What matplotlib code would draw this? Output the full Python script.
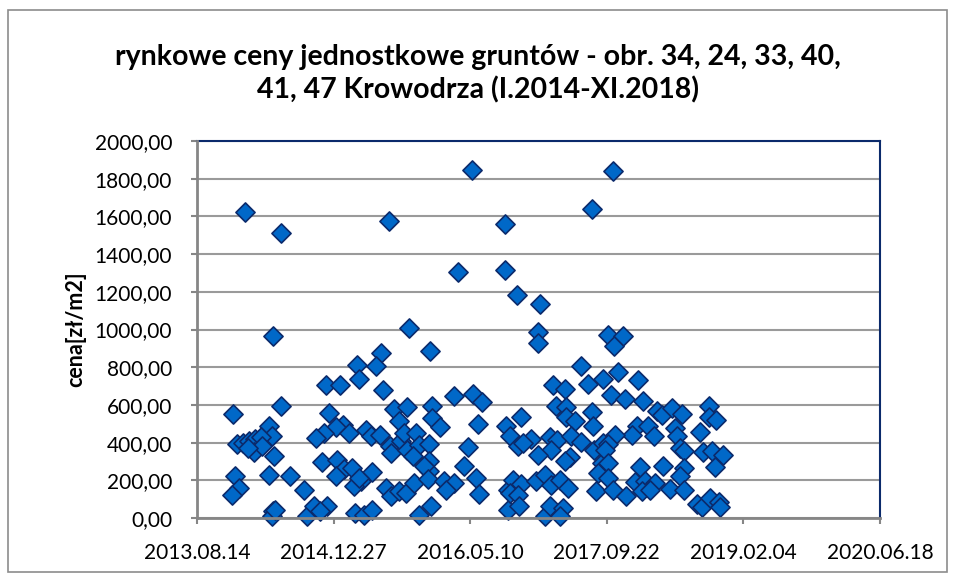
import datetime as dt
import matplotlib
matplotlib.use("Agg")
import matplotlib.pyplot as plt
from matplotlib.ticker import FuncFormatter, MultipleLocator
from matplotlib.patches import Rectangle

# ---- data (x: Excel date serial, y: price zł/m2) ----
dates = [
    41778, 41631, 41808, 41762, 41774, 41648, 41670, 41692, 41713, 41735,
    41707, 41738, 41783, 41685, 41640, 41655, 41627, 41765, 41842, 41891,
    41780, 41774, 41787, 41903, 41674, 41808, 42201, 42276, 42454, 42507,
    43024, 42944, 42629, 42628, 42672, 42755, 42748, 42748, 43005, 43060,
    43027, 42172, 42154, 42087, 42093, 42179, 41974, 42023, 41982, 42221,
    42240, 42270, 42035, 42007, 42056, 41964, 41934, 42117, 42136, 42169,
    42207, 42209, 42246, 42270, 41958, 42011, 42038, 42068, 42007, 42142,
    42099, 42074, 42093, 42191, 42209, 42240, 42264, 41927, 41977, 41952,
    42080, 42111, 42142, 42353, 42442, 42509, 42543, 42530, 42362, 42362,
    42390, 42258, 42301, 42313, 42350, 42292, 42350, 42350, 42331, 42491,
    42478, 42521, 42533, 42295, 42346, 42405, 42442, 42411, 42313, 42356,
    42632, 42644, 42638, 42638, 42907, 42932, 42987, 42803, 42846, 42815,
    42852, 42687, 42852, 42883, 42944, 42950, 42675, 42723, 42693, 42791,
    42819, 42797, 42748, 42870, 42907, 42954, 42987, 42864, 42846, 42981,
    42968, 42656, 42687, 42742, 42772, 42797, 42827, 42858, 42644, 42675,
    42962, 42680, 42772, 42791, 42840, 42827, 43042, 43115, 43015, 43066,
    43134, 43183, 43201, 43238, 43277, 43375, 43373, 43399, 43109, 43152,
    43248, 43091, 43174, 43256, 43342, 43030, 43268, 43281, 43351, 43385,
    43424, 43397, 43005, 42993, 43005, 43121, 43207, 43281, 43268, 43005,
    43103, 43140, 43176, 43128, 43158, 43232, 43281, 43024, 43072, 43330,
    43348, 43379, 43409, 43415,
]
prices = [
    963, 553, 596, 486, 433, 394, 398, 406, 419, 430,
    348, 380, 330, 371, 224, 159, 124, 230, 221, 150,
    35, 12, 44, 8, 1625, 1510, 1577, 1008, 1303, 1844,
    1839, 1641, 1560, 1314, 1183, 1137, 985, 928, 972, 965,
    910, 875, 804, 813, 737, 677, 703, 703, 557, 578,
    513, 589, 495, 483, 451, 451, 424, 468, 433, 442,
    384, 345, 406, 362, 295, 309, 260, 265, 221, 242,
    194, 168, 212, 159, 115, 141, 133, 62, 62, 35,
    27, 18, 44, 884, 649, 659, 613, 500, 596, 530,
    483, 451, 451, 389, 394, 330, 300, 247, 274, 375,
    274, 212, 129, 186, 207, 194, 186, 150, 18, 62,
    486, 433, 150, 44, 808, 712, 737, 707, 684, 592,
    589, 536, 536, 513, 560, 490, 380, 419, 398, 430,
    415, 362, 336, 433, 401, 362, 398, 324, 300, 292,
    239, 203, 182, 194, 230, 177, 203, 159, 133, 124,
    141, 62, 8, 62, 53, 8, 772, 730, 654, 633,
    619, 566, 548, 584, 553, 596, 536, 518, 490, 490,
    477, 442, 433, 437, 454, 442, 371, 353, 348, 353,
    336, 271, 394, 362, 292, 271, 274, 265, 224, 212,
    189, 194, 186, 141, 146, 154, 150, 150, 115, 76,
    58, 106, 83, 58,
]

title = "rynkowe ceny jednostkowe gruntów - obr. 34, 24, 33, 40,\n41, 47 Krowodrza (I.2014-XI.2018)"
y_label = "cena[zł/m2]"
x_start, x_end, x_step = 41500, 44000, 500
y_max, y_step = 2000, 200

plt.rcParams["font.family"] = ["Lato", "DejaVu Sans"]

fig = plt.figure(figsize=(9.55, 5.76), dpi=100)
fig.patches.append(Rectangle((8 / 955, 4 / 576), 939 / 955, 562 / 576,
                             transform=fig.transFigure, fill=False,
                             edgecolor="#8c8c8c", linewidth=1.2))

ax = fig.add_axes([197 / 955, 1 - 518 / 576, 683 / 955, 377 / 576])
ax.scatter(dates, prices, marker="D", s=95, facecolor="#0068C8",
           edgecolor="#0B2A6B", linewidth=1.2, zorder=3, clip_on=False)

ax.set_xlim(x_start, x_end)
ax.set_ylim(0, y_max)
ax.xaxis.set_major_locator(MultipleLocator(x_step))
ax.yaxis.set_major_locator(MultipleLocator(y_step))


def fmt_date(v, pos):
    d = dt.datetime(1899, 12, 30) + dt.timedelta(days=int(round(v)))
    return d.strftime("%Y.%m.%d")


ax.xaxis.set_major_formatter(FuncFormatter(fmt_date))
ax.yaxis.set_major_formatter(FuncFormatter(lambda v, p: f"{v:.2f}".replace(".", ",")))

ax.grid(axis="y", color="#9a9a9a", linewidth=1.5, zorder=0)
ax.set_axisbelow(True)
for s in ("top", "right"):
    ax.spines[s].set_color("#0B2A6B")
    ax.spines[s].set_linewidth(1.5)
for s in ("left", "bottom"):
    ax.spines[s].set_color("#868686")
    ax.spines[s].set_linewidth(2)
    ax.spines[s].set_zorder(4)

ax.tick_params(axis="both", colors="#868686", labelcolor="black", labelsize=15,
               length=4, width=1.5)
ax.tick_params(axis="y", pad=14)
ax.tick_params(axis="x", pad=14)

ax.set_ylabel(y_label, fontsize=15.5, fontweight="bold", labelpad=6)
fig.text(0.5, 1 - 74 / 576, title, ha="center", va="center", fontsize=20.5,
         fontweight="bold", linespacing=1.3)

fig.savefig("out.png", dpi=100)
